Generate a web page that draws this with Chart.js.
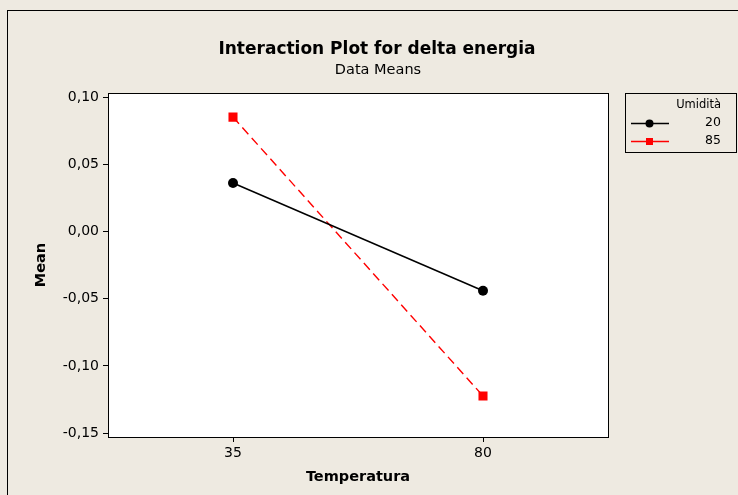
<!DOCTYPE html>
<html>
<head>
<meta charset="utf-8">
<script src="https://cdn.jsdelivr.net/npm/chart.js@4"></script>
<style>
	html, body { margin: 0; padding: 0; background: #EEEAE1; }
	#wrap { width: 738px; height: 495px; }
</style>
</head>
<body>
<div id="wrap"><canvas id="canvas" width="738" height="495"></canvas></div>
<script>
	// data
	var temperatura = ['35', '80'];
	var umidita     = ['20', '85'];
	var mean20      = [0.0363, -0.0440];
	var mean85      = [0.0854, -0.1224];
	var yTicks      = [-0.15, -0.10, -0.05, 0, 0.05, 0.10];

	var FONT = "'DejaVu Sans', Verdana, sans-serif";

	function comma(v) {
		return v.toFixed(2).replace('.', ',');
	}

	// background, plot frame, titles, legend box
	var decor = {
		id: 'decor',
		beforeDraw: function(chart) {
			var ctx = chart.ctx;
			var a = chart.chartArea;
			ctx.save();
			ctx.fillStyle = '#EEEAE1';
			ctx.fillRect(0, 0, chart.width, chart.height);
			ctx.strokeStyle = '#000';
			ctx.lineWidth = 1;
			ctx.strokeRect(7.5, 10.5, 800, 600);
			ctx.fillStyle = '#fff';
			ctx.fillRect(a.left, a.top, a.right - a.left, a.bottom - a.top);
			ctx.restore();
		},
		afterDraw: function(chart) {
			var ctx = chart.ctx;
			var a = chart.chartArea;
			ctx.save();
			ctx.strokeStyle = '#000';
			ctx.lineWidth = 1;
			ctx.strokeRect(Math.round(a.left) + 0.5, Math.round(a.top) + 0.5, Math.round(a.right - a.left), Math.round(a.bottom - a.top));

			ctx.fillStyle = '#000';
			ctx.textAlign = 'center';
			ctx.textBaseline = 'alphabetic';
			ctx.font = 'bold 17px ' + FONT;
			ctx.fillText('Interaction Plot for delta energia', 377, 54);
			ctx.font = '14.5px ' + FONT;
			ctx.fillText('Data Means', 378, 74);

			// y axis title
			ctx.save();
			ctx.translate(41, 265);
			ctx.rotate(-Math.PI / 2);
			ctx.textBaseline = 'middle';
			ctx.font = 'bold 14.5px ' + FONT;
			ctx.fillText('Mean', 0, 0);
			ctx.restore();

			// legend
			ctx.strokeRect(625.5, 93.5, 111, 59);
			ctx.font = '11.5px ' + FONT;
			ctx.textAlign = 'right';
			ctx.textBaseline = 'middle';
			ctx.fillText('Umidità', 721, 105);
			var rows = [123, 141];
			chart.data.datasets.forEach(function(ds, i) {
				var y = rows[i];
				ctx.fillStyle = '#000';
				ctx.font = '12.5px ' + FONT;
				ctx.fillText(umidita[i], 721, y);
				ctx.strokeStyle = ds.borderColor;
				ctx.lineWidth = 1.3;
				ctx.beginPath();
				ctx.moveTo(631, y + 0.5);
				ctx.lineTo(669, y + 0.5);
				ctx.stroke();
				ctx.fillStyle = ds.pointBackgroundColor;
				ctx.beginPath();
				if (ds.pointStyle === 'rect') {
					ctx.fillRect(646, y - 3, 7, 7);
				} else {
					ctx.arc(649.5, y + 0.5, 4, 0, Math.PI * 2);
					ctx.fill();
				}
			});
			ctx.restore();
		}
	};

	var ctx = document.getElementById('canvas').getContext('2d');
	var chart = new Chart(ctx, {
		type: 'line',
		data: {
			labels: temperatura,
			datasets: [
				{
					label: umidita[0],
					data: mean20,
					borderColor: '#000',
					borderWidth: 1.5,
					pointStyle: 'circle',
					pointRadius: 5,
					pointBackgroundColor: '#000',
					pointBorderColor: '#000',
					pointBorderWidth: 0
				},
				{
					label: umidita[1],
					data: mean85,
					borderColor: '#FF0000',
					borderWidth: 1.4,
					borderDash: [9, 5],
					pointStyle: 'rect',
					pointRadius: 6.4,
					pointBackgroundColor: '#FF0000',
					pointBorderColor: '#FF0000',
					pointBorderWidth: 0
				}
			]
		},
		options: {
			responsive: false,
			animation: false,
			layout: {
				padding: { left: 0, top: 93, right: 130, bottom: 0 }
			},
			plugins: {
				legend: { display: false },
				tooltip: { enabled: false }
			},
			scales: {
				x: {
					type: 'category',
					offset: true,
					grid: {
						display: true,
						offset: false,
						drawOnChartArea: false,
						tickLength: 5,
						color: '#000'
					},
					border: { display: false },
					ticks: {
						color: '#000',
						padding: 3,
						font: { family: FONT, size: 14 }
					},
					title: {
						display: true,
						text: 'Temperatura',
						color: '#000',
						padding: { top: 3, bottom: 9 },
						font: { family: FONT, size: 14.5, weight: 'bold' }
					},
					afterFit: function(scale) {
						scale.height = 58;
					}
				},
				y: {
					min: -0.15298,
					max: 0.10336,
					grid: {
						display: true,
						drawOnChartArea: false,
						tickLength: 5,
						color: '#000'
					},
					border: { display: false },
					afterBuildTicks: function(scale) {
						scale.ticks = yTicks.map(function(v) { return { value: v }; });
					},
					ticks: {
						color: '#000',
						padding: 4,
						font: { family: FONT, size: 14 },
						callback: function(v) { return comma(v); }
					},
					afterFit: function(scale) {
						scale.width = 108;
					}
				}
			}
		},
		plugins: [decor]
	});
</script>
</body>
</html>
